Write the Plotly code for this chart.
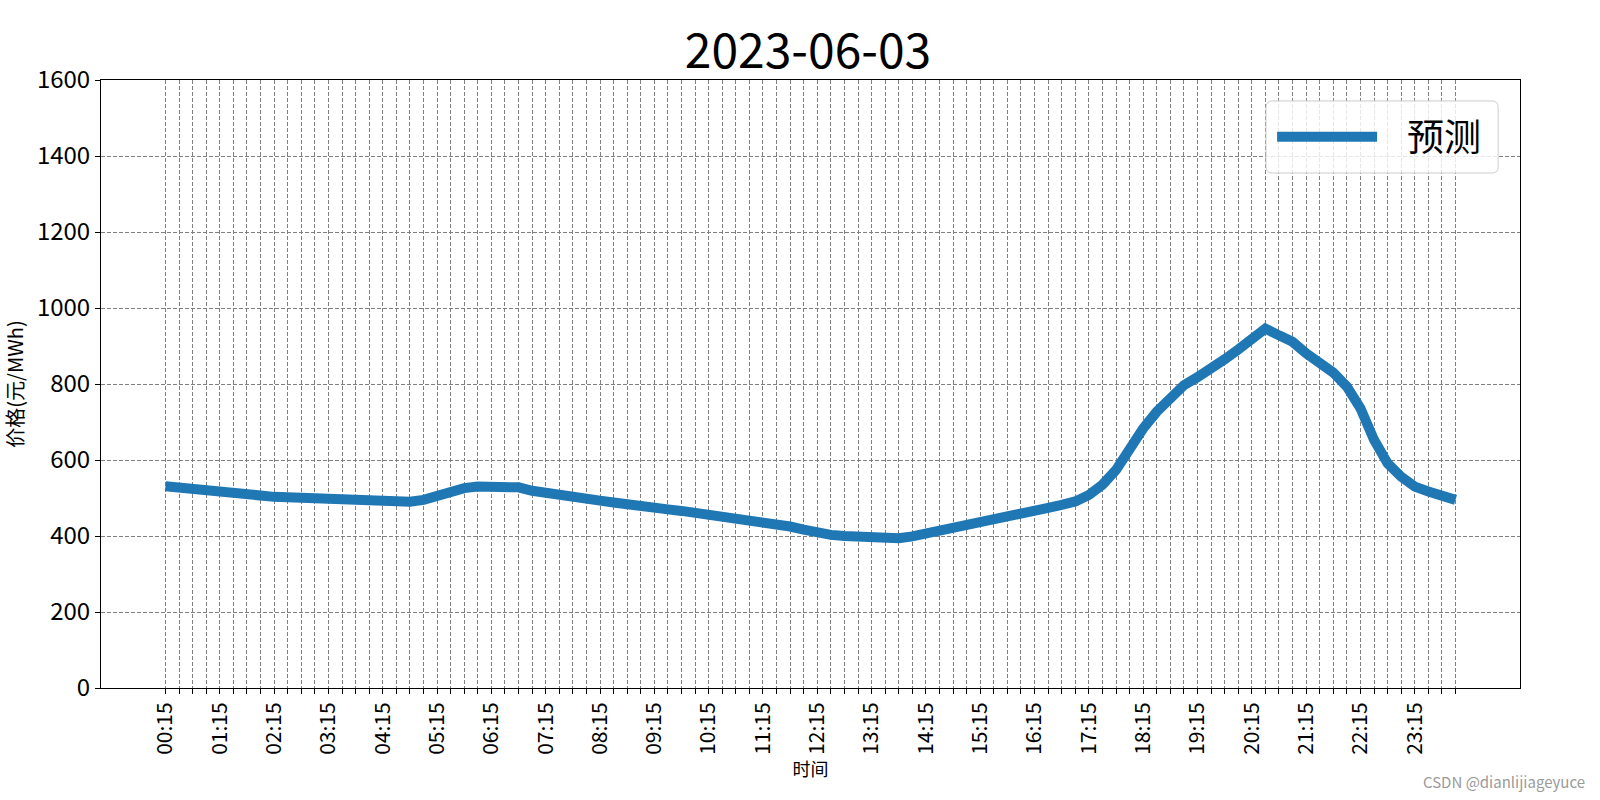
import plotly.graph_objects as go

# Time labels, every 15 minutes from 00:15 to 24:00
times = []
for i in range(96):
    m = (i + 1) * 15
    h, mm = divmod(m, 60)
    times.append(f"{h % 24:02d}:{mm:02d}")

# Predicted price values (元/MWh)
forecast = [
    531, 527, 524, 520, 517, 513, 510, 506, 503, 502, 500, 498,
    496, 495, 494, 492, 491, 490, 490, 495, 505, 519, 526, 530,
    531, 531, 528, 519, 515, 511, 504, 499, 493, 488, 482, 478,
    474, 470, 466, 461, 457, 453, 449, 446, 438, 432, 425, 417,
    408, 403, 400, 397, 396, 394, 394, 399, 406, 413, 419, 426,
    433, 441, 449, 458, 467, 474, 482, 491, 508, 535, 574, 631,
    683, 727, 765, 797, 818, 839, 865, 891, 920, 946, 928, 911,
    881, 859, 830, 793, 736, 653, 591, 556, 530, 517, 508, 495,
]

tick_labels = [t if i % 4 == 0 else "" for i, t in enumerate(times)]
y_ticks = [0, 200, 400, 600, 800, 1000, 1200, 1400, 1600]

font_family = "Noto Sans CJK SC, Noto Sans, sans-serif"

x_idx = list(range(len(times)))

fig = go.Figure()
fig.add_trace(go.Scatter(
    x=x_idx, y=forecast, mode="lines", name="\u00a0\u00a0\u00a0预测",
    line=dict(color="#1f77b4", width=10),
))

# rounded legend frame (paper coordinates)
x0, x1, y0, y1 = 0.821, 0.9846, 0.847, 0.9655
rx, ry = 0.0045, 0.0105
path = (f"M{x0+rx},{y0} L{x1-rx},{y0} Q{x1},{y0} {x1},{y0+ry} "
        f"L{x1},{y1-ry} Q{x1},{y1} {x1-rx},{y1} L{x0+rx},{y1} "
        f"Q{x0},{y1} {x0},{y1-ry} L{x0},{y0+ry} Q{x0},{y0} {x0+rx},{y0} Z")

fig.update_layout(
    width=1600, height=800,
    margin=dict(l=94, r=80, t=80, b=112),
    paper_bgcolor="white", plot_bgcolor="white",
    font=dict(family=font_family, color="black"),
    title=dict(text="2023-06-03", x=0.505, xanchor="center", y=0.936, yanchor="middle",
               font=dict(size=48, family=font_family, color="black")),
    showlegend=True,
    legend=dict(x=0.8253, y=0.906, xanchor="left", yanchor="middle",
                bgcolor="rgba(0,0,0,0)", borderwidth=0,
                font=dict(size=37, family=font_family), itemwidth=100),
    shapes=[dict(type="path", xref="paper", yref="paper", path=path,
                 fillcolor="rgba(255,255,255,0.8)",
                 line=dict(color="#cccccc", width=1), layer="above")],
)

fig.update_xaxes(
    range=[-4.75, 99.75],
    tickmode="array", tickvals=x_idx, ticktext=tick_labels,
    tickangle=-90, tickfont=dict(size=21, family=font_family),
    ticks="outside", ticklen=5, tickcolor="black",
    showline=True, linecolor="black", linewidth=1, mirror=True,
    showgrid=True, gridcolor="#808080", gridwidth=1, griddash="4px,2px",
    zeroline=False,
    title=dict(text="时间", font=dict(size=18, family=font_family), standoff=8),
)
fig.update_yaxes(
    range=[0, 1600],
    tickmode="array", tickvals=y_ticks,
    tickfont=dict(size=24, family=font_family),
    ticks="outside", ticklen=5, tickcolor="black",
    showline=True, linecolor="black", linewidth=1, mirror=True,
    showgrid=True, gridcolor="#808080", gridwidth=1, griddash="4px,2px",
    zeroline=False,
    title=dict(text="价格(元/MWh)", font=dict(size=20, family=font_family), standoff=11),
)

fig.add_annotation(
    text="CSDN @dianlijiageyuce", xref="paper", yref="paper",
    x=1.047, y=-0.153, xanchor="right", yanchor="middle", showarrow=False,
    font=dict(size=15, color="#9a9a9a", family=font_family),
)

fig.write_html("out.html", config={"displayModeBar": False},
               post_script="document.body.style.margin='0px';")
